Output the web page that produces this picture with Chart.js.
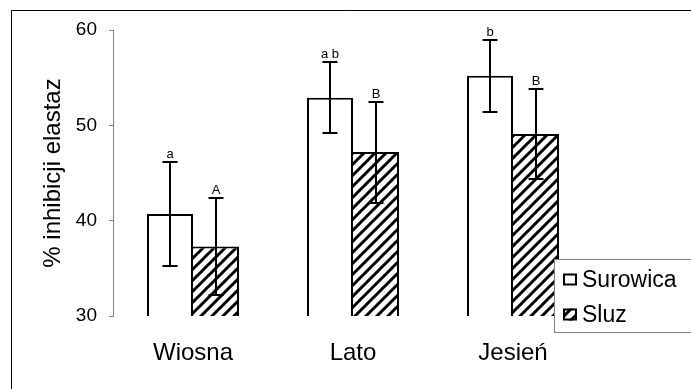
<!DOCTYPE html>
<html><head><meta charset="utf-8">
<script src="https://cdn.jsdelivr.net/npm/chart.js@4/dist/chart.umd.min.js"></script>
<style>html,body{margin:0;padding:0;background:#fff;overflow:hidden;}</style>
</head><body>
<canvas id="c" width="691" height="389" style="display:block;width:691px;height:389px"></canvas>
<script>
const categories = ['Wiosna', 'Lato', 'Jesień'];
const seriesNames = ['Surowica', 'Sluz'];
const surowica = [40.7, 52.9, 55.2];
const surowicaErr = [5.5, 3.7, 3.8];
const sluz = [37.3, 47.2, 49.1];
const sluzErr = [5.1, 5.3, 4.7];
const surowicaLetters = ['a', 'a b', 'b'];
const sluzLetters = ['A', 'B', 'B'];
const yTicks = [30, 40, 50, 60];
const yTitle = '% inhibicji elastaz';

const FONT = '"Liberation Sans", Arial, Helvetica, sans-serif';
Chart.defaults.font.family = FONT;
Chart.defaults.color = '#000';

function makeHatch() {
  const s = 11;
  const c = document.createElement('canvas');
  c.width = s; c.height = s;
  const g = c.getContext('2d');
  g.fillStyle = '#fff'; g.fillRect(0, 0, s, s);
  g.strokeStyle = '#000'; g.lineWidth = 3;
  g.beginPath();
  g.moveTo(-2, s + 2); g.lineTo(s + 2, -2);
  g.moveTo(-2, 2); g.lineTo(2, -2);
  g.moveTo(s - 2, s + 2); g.lineTo(s + 2, s - 2);
  g.stroke();
  return g.createPattern(c, 'repeat');
}
const hatch = makeHatch();

const frame = {
  id: 'frame',
  beforeDraw(chart) {
    const ctx = chart.ctx;
    ctx.save();
    ctx.fillStyle = '#fff';
    ctx.fillRect(0, 0, chart.width, chart.height);
    ctx.strokeStyle = '#000';
    ctx.lineWidth = 1;
    ctx.beginPath();
    ctx.moveTo(11.5, chart.height);
    ctx.lineTo(11.5, 10.5);
    ctx.lineTo(chart.width, 10.5);
    ctx.stroke();
    ctx.restore();
  }
};

const errorBars = {
  id: 'errorBars',
  afterDatasetsDraw(chart) {
    const ctx = chart.ctx;
    const ys = chart.scales.y;
    chart.data.datasets.forEach((ds, di) => {
      const meta = chart.getDatasetMeta(di);
      meta.data.forEach((bar, i) => {
        const v = ds.data[i], e = ds.errors[i];
        const x = Math.round(bar.x);
        const yt = Math.round(ys.getPixelForValue(v + e));
        const yb = Math.round(ys.getPixelForValue(v - e));
        ctx.save();
        ctx.strokeStyle = '#000';
        ctx.lineWidth = 2;
        ctx.beginPath();
        ctx.moveTo(x, yt); ctx.lineTo(x, yb);
        ctx.moveTo(x - 7.5, yt); ctx.lineTo(x + 7.5, yt);
        ctx.moveTo(x - 7.5, yb); ctx.lineTo(x + 7.5, yb);
        ctx.stroke();
        ctx.fillStyle = '#000';
        ctx.font = '13px ' + FONT;
        ctx.textAlign = 'center';
        ctx.textBaseline = 'alphabetic';
        ctx.fillText(ds.letters[i], x, yt - 4);
        ctx.restore();
      });
    });
  }
};

const boxLegend = {
  id: 'boxLegend',
  afterDraw(chart) {
    const ctx = chart.ctx;
    ctx.save();
    ctx.fillStyle = '#fff';
    ctx.fillRect(554.5, 259.5, 150, 73);
    ctx.strokeStyle = '#808080';
    ctx.lineWidth = 1;
    ctx.strokeRect(554.5, 259.5, 150, 73);
    const rows = [279.5, 314.5];
    chart.data.datasets.forEach((ds, i) => {
      const cy = rows[i];
      ctx.fillStyle = ds.backgroundColor;
      ctx.fillRect(563, cy - 6, 14, 12);
      ctx.strokeStyle = '#000';
      ctx.lineWidth = 2;
      ctx.strokeRect(564, cy - 5, 12, 10);
      ctx.fillStyle = '#000';
      ctx.font = '23px ' + FONT;
      ctx.textAlign = 'left';
      ctx.textBaseline = 'middle';
      ctx.fillText(ds.label, 582, cy + 1);
    });
    ctx.restore();
  }
};

new Chart(document.getElementById('c'), {
  type: 'bar',
  data: {
    labels: categories,
    datasets: [
      {
        label: seriesNames[0], data: surowica, errors: surowicaErr, letters: surowicaLetters,
        backgroundColor: '#ffffff', borderColor: '#000',
        borderWidth: {top: 2, left: 2, right: 2, bottom: 1}, borderSkipped: false
      },
      {
        label: seriesNames[1], data: sluz, errors: sluzErr, letters: sluzLetters,
        backgroundColor: hatch, borderColor: '#000',
        borderWidth: {top: 2, left: 0, right: 2, bottom: 1}, borderSkipped: false
      }
    ]
  },
  options: {
    responsive: false,
    animation: false,
    events: [],
    datasets: { bar: { categoryPercentage: 0.575, barPercentage: 1.0 } },
    layout: { padding: { top: 30, right: 98, bottom: 0, left: 0 } },
    plugins: { legend: { display: false }, tooltip: { enabled: false } },
    scales: {
      x: {
        grid: { display: false, drawTicks: false },
        border: { display: false },
        ticks: { font: { size: 24 }, padding: 23, color: '#000' },
        afterFit(s) { s.height = 73; }
      },
      y: {
        min: 30, max: 60,
        afterBuildTicks(s) { s.ticks = yTicks.map(v => ({ value: v })); },
        grid: { drawOnChartArea: false, drawTicks: true, tickLength: 4, color: '#808080' },
        border: { display: true, color: '#808080', width: 1 },
        ticks: { font: { size: 19 }, padding: 12, color: '#000' },
        title: { display: true, text: yTitle, font: { size: 24 }, color: '#000', padding: { top: 39, bottom: 0 } },
        afterFit(s) { s.width = 113; }
      }
    }
  },
  plugins: [frame, errorBars, boxLegend]
});
</script>
</body></html>
